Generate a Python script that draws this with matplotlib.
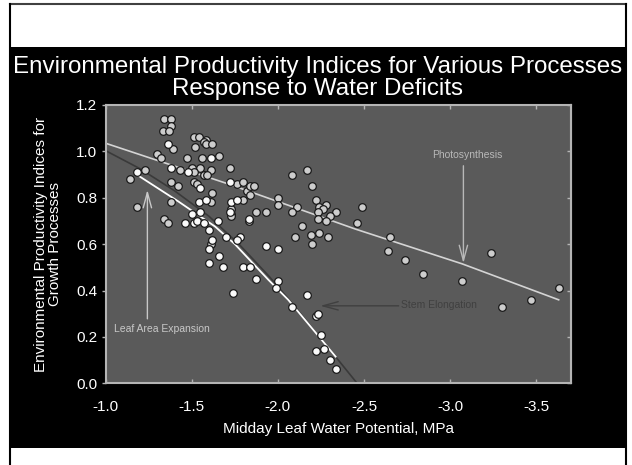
import numpy as np
import matplotlib.pyplot as plt
from matplotlib.patches import Rectangle
from matplotlib.lines import Line2D

plt.rcParams['font.family'] = ['Liberation Sans', 'DejaVu Sans']

# photosynthesis observations (light gray dots)
photo_x = [-1.34, -1.38, -1.38, -1.33, -1.37, -1.39, -1.30, -1.32,
           -1.51, -1.54, -1.58, -1.52, -1.57, -1.58, -1.62, -1.66,
           -1.56, -1.47, -1.72, -1.43, -1.50, -1.55, -1.61, -1.51,
           -1.57, -1.59, -1.23, -1.14, -1.38, -1.42, -1.51, -1.53,
           -1.62, -1.38, -1.61, -1.18, -1.34, -1.36, -1.73, -1.73,
           -1.61, -1.76, -1.80, -1.80, -1.73, -1.83, -1.87, -1.93,
           -1.82, -1.84, -1.86, -1.84, -2.00, -2.00, -2.08, -2.17,
           -2.20, -2.22, -2.28, -2.24, -2.26, -2.23, -2.34, -2.30,
           -2.23, -2.28, -2.14, -2.49, -2.46, -2.24, -2.19, -2.29,
           -2.20, -2.65, -2.64, -2.74, -2.84, -3.07, -3.24, -3.63,
           -3.30, -3.47, -2.11, -2.08, -2.10]
photo_y = [1.14, 1.14, 1.11, 1.09, 1.09, 1.01, 0.99, 0.97,
           1.06, 1.06, 1.05, 1.02, 1.04, 1.03, 1.03, 0.98,
           0.97, 0.97, 0.93, 0.92, 0.93, 0.93, 0.92, 0.91,
           0.90, 0.90, 0.92, 0.88, 0.87, 0.85, 0.87, 0.86,
           0.82, 0.78, 0.78, 0.76, 0.71, 0.69, 0.73, 0.75,
           0.60, 0.86, 0.87, 0.79, 0.72, 0.70, 0.74, 0.74,
           0.83, 0.85, 0.85, 0.81, 0.80, 0.77, 0.90, 0.92,
           0.85, 0.79, 0.77, 0.76, 0.75, 0.74, 0.74, 0.72,
           0.71, 0.70, 0.68, 0.76, 0.69, 0.65, 0.64, 0.63,
           0.60, 0.63, 0.57, 0.53, 0.47, 0.44, 0.56, 0.41,
           0.33, 0.36, 0.76, 0.74, 0.63]

# leaf expansion / stem elongation observations (white dots)
leaf_x = [-1.36, -1.61, -1.38, -1.48, -1.18, -1.55, -1.72, -1.54,
          -1.58, -1.73, -1.72, -1.83, -1.76, -1.78, -1.76, -1.93,
          -2.00, -1.80, -1.84, -1.87, -2.00, -1.99, -2.17, -2.08,
          -2.22, -2.23, -2.25, -2.27, -2.22, -2.30, -2.34, -1.74,
          -1.46, -1.50, -1.51, -1.53, -1.55, -1.57, -1.60, -1.65,
          -1.70, -1.62, -1.60, -1.60, -1.66, -1.68]
leaf_y = [1.03, 0.97, 0.93, 0.91, 0.91, 0.84, 0.87, 0.78,
          0.79, 0.78, 0.74, 0.71, 0.79, 0.63, 0.62, 0.59,
          0.58, 0.50, 0.50, 0.45, 0.44, 0.41, 0.38, 0.33,
          0.29, 0.30, 0.21, 0.15, 0.14, 0.10, 0.06, 0.39,
          0.69, 0.73, 0.69, 0.70, 0.74, 0.69, 0.66, 0.70,
          0.63, 0.62, 0.58, 0.52, 0.55, 0.50]

# fitted response lines
photo_fit_x = [-1.0, -1.71, -2.45, -3.07, -3.63]
photo_fit_y = [1.035, 0.86, 0.665, 0.515, 0.36]
leaf_fit_x = [-1.18, -1.42, -1.635, -1.75, -1.945, -2.06, -2.335]
leaf_fit_y = [0.90, 0.785, 0.676, 0.60, 0.446, 0.36, 0.115]
stem_fit_x = [-1.0, -1.2, -1.4, -1.6, -1.78, -1.95, -2.1, -2.25, -2.34, -2.46]
stem_fit_y = [1.003, 0.925, 0.83, 0.72, 0.595, 0.46, 0.33, 0.19, 0.11, 0.0]

xticks = [-1.0, -1.5, -2.0, -2.5, -3.0, -3.5]
yticks = [0.0, 0.2, 0.4, 0.6, 0.8, 1.0, 1.2]

W, H = 632, 465
fig = plt.figure(figsize=(W / 100, H / 100), dpi=100, facecolor='white')

# slide background
fig.patches.append(Rectangle((10 / W, 1 - 448 / H), 616 / W, 401 / H,
                             transform=fig.transFigure, facecolor='black',
                             edgecolor='none', zorder=-10))
fig.lines.append(Line2D([10 / W, 626 / W], [1 - 4 / H, 1 - 4 / H],
                        transform=fig.transFigure, color='#404040', lw=1.5,
                        zorder=-10))
for xx in [10, 626]:
    fig.lines.append(Line2D([xx / W, xx / W], [0, 1 - 4 / H],
                            transform=fig.transFigure, color='black', lw=1.5,
                            zorder=-10))

fig.text(318 / W, 1 - 72.5 / H,
         'Environmental Productivity Indices for Various Processes',
         ha='center', va='baseline', color='white', fontsize=17.4)
fig.text(318 / W, 1 - 95.5 / H, 'Response to Water Deficits',
         ha='center', va='baseline', color='white', fontsize=17.4)

ax = fig.add_axes([105.7 / W, 1 - 383.3 / H, 465 / W, 278.3 / H])
ax.set_facecolor('#5a5a5a')

ax.plot(photo_fit_x, photo_fit_y, color='#d4d4d4', lw=1.2, zorder=2)
ax.plot(stem_fit_x, stem_fit_y, color='#3a3a3a', lw=1.2, zorder=2)
ax.plot(leaf_fit_x, leaf_fit_y, color='white', lw=1.3, zorder=3)

ax.plot(photo_x, photo_y, 'o', ms=5.5, mfc='#cdcdcd', mec='#1a1a1a',
        mew=0.9, zorder=4)
ax.plot(leaf_x, leaf_y, 'o', ms=5.5, mfc='#fafafa', mec='#1a1a1a',
        mew=0.9, zorder=5)

arrow = '->,head_length=1.1,head_width=0.3'
ax.annotate('', xy=(-3.077, 0.518), xytext=(-3.077, 0.938),
            arrowprops=dict(arrowstyle=arrow, color='#b8b8b8', lw=1,
                            shrinkA=0, shrinkB=0))
ax.text(-3.10, 0.985, 'Photosynthesis', color='#b8b8b8', fontsize=7.5,
        ha='center', va='center')
ax.annotate('', xy=(-2.246, 0.334), xytext=(-2.701, 0.334),
            arrowprops=dict(arrowstyle=arrow, color='#404040', lw=1,
                            shrinkA=0, shrinkB=0))
ax.text(-2.937, 0.338, 'Stem Elongation', color='#404040', fontsize=7.5,
        ha='center', va='center')
ax.annotate('', xy=(-1.242, 0.834), xytext=(-1.242, 0.278),
            arrowprops=dict(arrowstyle=arrow, color='#c8c8c8', lw=1,
                            shrinkA=0, shrinkB=0))
ax.text(-1.327, 0.233, 'Leaf Area Expansion', color='#c8c8c8', fontsize=7.5,
        ha='center', va='center')

ax.set_xlim(-1.0, -3.7)
ax.set_ylim(0, 1.2)
ax.set_xticks(xticks)
ax.set_xticklabels(['%.1f' % v for v in xticks])
ax.set_yticks(yticks)
ax.set_yticklabels(['%.1f' % v for v in yticks])

spine_c = '#b4b4b4'
for s in ax.spines.values():
    s.set_color(spine_c)
    s.set_linewidth(1.5)
ax.tick_params(axis='x', direction='in', top=True, length=3, width=1,
               color=spine_c, labelcolor='white', labelsize=11, pad=12)
ax.tick_params(axis='y', direction='out', length=3, width=1,
               color=spine_c, labelcolor='white', labelsize=11, pad=3)
sec = ax.secondary_yaxis('right')
sec.set_yticks(yticks)
sec.tick_params(direction='in', length=3, width=1, color=spine_c,
                labelright=False)
sec.spines['right'].set_color(spine_c)
sec.spines['right'].set_linewidth(1.5)

ax.set_xlabel('Midday Leaf Water Potential, MPa', color='white',
              fontsize=11, labelpad=6)
ax.set_ylabel('Environmental Productivity Indices for\nGrowth Processes',
              color='white', fontsize=11, labelpad=10, linespacing=1.0)

fig.savefig('out.png', dpi=100, facecolor='white')
